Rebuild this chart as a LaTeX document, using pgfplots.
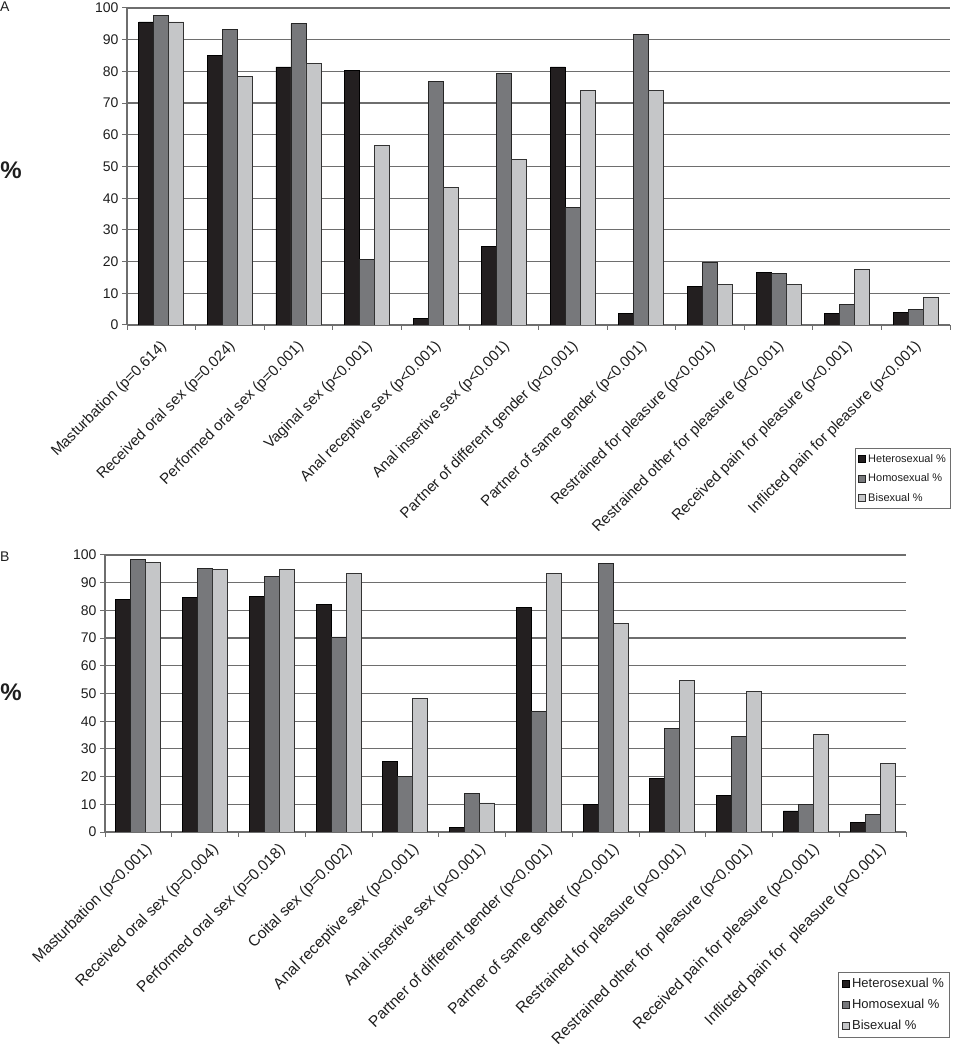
\documentclass[border=0pt]{standalone}
\usepackage{fontspec}
\setmainfont{Liberation Sans}
\usepackage{pgfplots}
\pgfplotsset{compat=1.18}
\definecolor{cHet}{HTML}{231F20}
\definecolor{cHom}{HTML}{77787B}
\definecolor{cBi}{HTML}{C5C6C8}
\definecolor{gridc}{HTML}{6E6E6E}
\definecolor{txt}{HTML}{1E1E1E}
\pgfplotsset{
  /pgfplots/ybar legend/.style={/pgfplots/legend image code/.code={\draw[##1,/tikz/.cd] (0bp,-3.5bp) rectangle (7bp,3.5bp);}},
  sexbars/.style={
    scale only axis,
    ybar=0pt, bar width=15bp,
    xmin=0, xmax=12, ymin=0, ymax=100,
    ytick={0,10,...,100},
    xtick={0.5,1.5,...,11.5},
    minor xtick={0,1,...,12},
    ymajorgrids, grid style={gridc, line width=1.2bp},
    axis x line*=bottom, axis y line*=left,
    axis line style={gridc, line width=1.2bp},
    tick align=outside,
    major tick length=5bp, minor tick length=5bp,
    major x tick style={draw=none},
    minor x tick style={gridc, line width=1bp},
    y tick style={gridc, line width=1bp},
    /pgf/number format/assume math mode=true,
    yticklabel style={font=\fontsize{14bp}{16bp}\selectfont, text=txt},
    xticklabel style={anchor=north east, inner sep=1bp, text=txt},
    legend cell align=left,
  },
  bH/.style={fill=cHet, draw=black, line width=0.8bp},
  bO/.style={fill=cHom, draw=black!85, line width=0.8bp},
  bB/.style={fill=cBi, draw=black!80, line width=0.8bp},
}
\begin{document}
\begin{tikzpicture}
\useasboundingbox (0,0) rectangle (954bp,1050bp);
% Panel A
\begin{axis}[sexbars,
  at={(127bp,725bp)}, anchor=south west,
  width=823bp, height=317bp,
  xticklabel style={font=\fontsize{15bp}{17bp}\selectfont, xshift=-2bp, yshift=-7.6bp, rotate=45},
  xticklabels={Masturbation (p=0.614), Received oral sex (p=0.024), Performed oral sex (p=0.001), Vaginal sex (p<0.001), Anal receptive sex (p<0.001), Anal insertive sex (p<0.001), Partner of different gender (p<0.001), Partner of same gender (p<0.001), Restrained for pleasure (p<0.001), Restrained other for pleasure (p<0.001), Received pain for pleasure (p<0.001), Inflicted pain for pleasure (p<0.001)},
  legend style={at={(axis description cs:0.8846,-0.388)}, anchor=north west, draw=gridc, line width=0.8bp, font=\fontsize{11bp}{13bp}\selectfont, text=txt, row sep=6bp, inner xsep=3bp, inner ysep=4bp},
]
\addplot[bH] coordinates {(0.5,95.6) (1.5,84.9) (2.5,81.4) (3.5,80.2) (4.5,2.1) (5.5,24.9) (6.5,81.4) (7.5,3.6) (8.5,12.1) (9.5,16.6) (10.5,3.6) (11.5,3.9)};
\addplot[bO] coordinates {(0.5,97.6) (1.5,93.3) (2.5,95.0) (3.5,20.6) (4.5,76.9) (5.5,79.4) (6.5,37.0) (7.5,91.6) (8.5,19.8) (9.5,16.3) (10.5,6.5) (11.5,5.0)};
\addplot[bB] coordinates {(0.5,95.6) (1.5,78.3) (2.5,82.5) (3.5,56.5) (4.5,43.3) (5.5,52.1) (6.5,74.0) (7.5,74.0) (8.5,12.9) (9.5,12.9) (10.5,17.6) (11.5,8.7)};
\legend{Heterosexual \%, Homosexual \%, Bisexual \%}
\end{axis}
% Panel B
\begin{axis}[sexbars,
  at={(105bp,218bp)}, anchor=south west,
  width=801bp, height=277bp,
  xticklabel style={font=\fontsize{15.5bp}{17bp}\selectfont, xshift=6bp, yshift=-3.6bp, rotate=45},
  xticklabels={Masturbation (p<0.001), Received oral sex (p=0.004), Performed oral sex (p=0.018), Coital sex (p=0.002), Anal receptive sex (p<0.001), Anal insertive sex (p<0.001), Partner of different gender (p<0.001), Partner of same gender (p<0.001), Restrained for pleasure (p<0.001), Restrained other for\ \ pleasure (p<0.001), Received pain for pleasure (p<0.001), Inflicted pain for\ \ pleasure (p<0.001)},
  legend style={at={(axis description cs:0.915,-0.505)}, anchor=north west, draw=gridc, line width=0.8bp, font=\fontsize{13bp}{15bp}\selectfont, text=txt, row sep=6bp, inner xsep=4bp, inner ysep=4bp},
]
\addplot[bH] coordinates {(0.5,84.1) (1.5,84.7) (2.5,85.1) (3.5,82.0) (4.5,25.5) (5.5,1.8) (6.5,81.1) (7.5,10.1) (8.5,19.4) (9.5,13.1) (10.5,7.6) (11.5,3.4)};
\addplot[bO] coordinates {(0.5,98.4) (1.5,95.1) (2.5,92.2) (3.5,70.4) (4.5,20.2) (5.5,14.0) (6.5,43.6) (7.5,96.9) (8.5,37.5) (9.5,34.6) (10.5,10.1) (11.5,6.3)};
\addplot[bB] coordinates {(0.5,97.3) (1.5,94.8) (2.5,94.8) (3.5,93.5) (4.5,48.2) (5.5,10.5) (6.5,93.5) (7.5,75.2) (8.5,54.7) (9.5,50.8) (10.5,35.3) (11.5,24.8)};
\legend{Heterosexual \%, Homosexual \%, Bisexual \%}
\end{axis}
\node[anchor=north west, inner sep=0pt, font=\fontsize{14bp}{16bp}\selectfont, text=txt] at (0bp,1048bp) {A};
\node[anchor=north west, inner sep=0pt, font=\fontsize{14bp}{16bp}\selectfont, text=txt] at (0bp,498bp) {B};
\node[inner sep=0pt, font=\fontsize{24bp}{28bp}\selectfont\bfseries, text=txt] at (11bp,880bp) {\%};
\node[inner sep=0pt, font=\fontsize{24bp}{28bp}\selectfont\bfseries, text=txt] at (11bp,358bp) {\%};
\end{tikzpicture}
\end{document}
